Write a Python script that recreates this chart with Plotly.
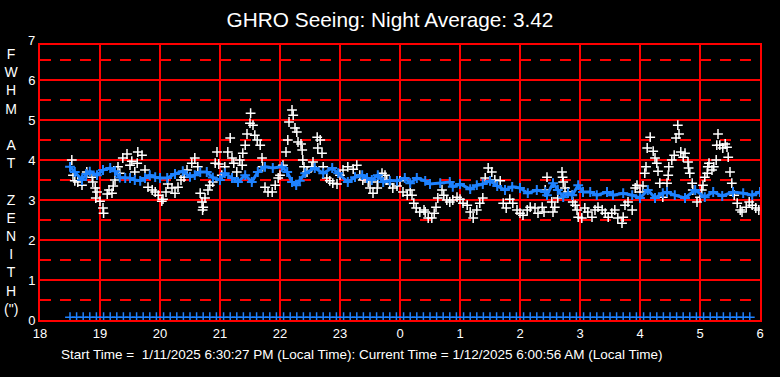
import plotly.graph_objects as go

# ---------------- data ----------------
avg_t = [18.50, 18.58, 18.70, 18.77, 18.83, 18.95, 19.05, 19.17, 19.25, 19.33, 19.42, 19.50, 19.58, 19.67,
         19.75, 19.83, 19.92, 20.00, 20.12, 20.25, 20.38, 20.50, 20.58, 20.67, 20.78, 20.88, 21.00, 21.08,
         21.20, 21.30, 21.42, 21.53, 21.63, 21.75, 21.88, 22.03, 22.12, 22.20, 22.27, 22.33, 22.42, 22.58,
         22.72, 22.87, 22.97, 23.13, 23.25, 23.37, 23.45, 23.53, 23.63, 23.72, 23.83, 23.95, 24.08, 24.17,
         24.28, 24.42, 24.50, 24.67, 24.83, 24.88, 25.00, 25.17, 25.28, 25.38, 25.50, 25.62, 25.75, 25.87,
         26.00, 26.13, 26.28, 26.42, 26.45, 26.55, 26.63, 26.72, 26.80, 26.87, 26.97, 27.05, 27.17, 27.28,
         27.45, 27.55, 27.72, 27.87, 28.00, 28.13, 28.25, 28.38, 28.45, 28.58, 28.75, 28.92, 29.08, 29.22,
         29.37, 29.55, 29.72, 29.87, 30.00]
avg_v = [3.83, 3.70, 3.50, 3.65, 3.71, 3.62, 3.75, 3.80, 3.72, 3.56, 3.55, 3.55, 3.50, 3.48,
         3.55, 3.62, 3.57, 3.55, 3.55, 3.65, 3.72, 3.58, 3.62, 3.70, 3.70, 3.56, 3.50, 3.67,
         3.55, 3.45, 3.62, 3.45, 3.70, 3.83, 3.80, 3.83, 3.70, 3.45, 3.37, 3.48, 3.67, 3.80,
         3.67, 3.80, 3.67, 3.45, 3.57, 3.62, 3.55, 3.50, 3.62, 3.45, 3.48, 3.48, 3.55, 3.42,
         3.55, 3.48, 3.40, 3.42, 3.45, 3.33, 3.40, 3.27, 3.37, 3.40, 3.48, 3.35, 3.25, 3.33,
         3.30, 3.17, 3.25, 3.20, 3.12, 3.42, 3.25, 3.07, 3.17, 3.12, 3.37, 3.20, 3.20, 3.12,
         3.20, 3.12, 3.17, 3.12, 3.05, 3.25, 3.05, 3.17, 3.20, 3.12, 3.05, 3.25, 3.07, 3.20,
         3.10, 3.20, 3.17, 3.12, 3.20]

seeing_t = [18.53, 18.55, 18.58, 18.63, 18.70, 18.78, 18.87, 18.88, 18.92, 18.95, 18.93, 19.00, 19.05, 19.06,
            19.12, 19.15, 19.20, 19.22, 19.25, 19.30, 19.33, 19.38, 19.45, 19.50, 19.53, 19.58, 19.62, 19.63,
            19.70, 19.75, 19.80, 19.87, 19.92, 19.97, 20.03, 20.05, 20.10, 20.13, 20.20, 20.25, 20.30, 20.35,
            20.40, 20.45, 20.53, 20.58, 20.63, 20.67, 20.70, 20.72, 20.71, 20.75, 20.80, 20.83, 20.88, 20.92,
            20.95, 20.98, 21.03, 21.08, 21.13, 21.17, 21.20, 21.23, 21.28, 21.33, 21.37, 21.38, 21.42, 21.45,
            21.50, 21.51, 21.55, 21.58, 21.62, 21.67, 21.70, 21.71, 21.75, 21.80, 21.87, 21.92, 21.97, 22.00,
            22.05, 22.10, 22.13, 22.15, 22.20, 22.22, 22.25, 22.28, 22.30, 22.35, 22.37, 22.38, 22.40, 22.45,
            22.53, 22.55, 22.62, 22.67, 22.63, 22.70, 22.72, 22.78, 22.83, 22.88, 22.95, 23.00, 23.05, 23.13,
            23.22, 23.28, 23.33, 23.38, 23.47, 23.50, 23.55, 23.62, 23.63, 23.70, 23.75, 23.78, 23.83, 23.88,
            23.95, 24.00, 24.05, 24.12, 24.17, 24.20, 24.23, 24.27, 24.33, 24.40, 24.42, 24.47, 24.53, 24.57,
            24.60, 24.63, 24.70, 24.73, 24.78, 24.83, 24.88, 24.95, 25.00, 25.05, 25.12, 25.17, 25.22, 25.28,
            25.33, 25.38, 25.42, 25.47, 25.53, 25.58, 25.67, 25.72, 25.77, 25.83, 25.88, 25.95, 26.00, 26.05,
            26.12, 26.17, 26.25, 26.30, 26.37, 26.40, 26.45, 26.42, 26.53, 26.55, 26.58, 26.63, 26.70, 26.71,
            26.72, 26.75, 26.80, 26.87, 26.88, 26.92, 26.95, 26.97, 27.03, 27.08, 27.13, 27.20, 27.25, 27.30,
            27.37, 27.42, 27.47, 27.53, 27.58, 27.63, 27.70, 27.72, 27.75, 27.80, 27.87, 27.92, 27.95, 28.00,
            28.05, 28.08, 28.10, 28.12, 28.17, 28.22, 28.25, 28.28, 28.30, 28.33, 28.38, 28.45, 28.47, 28.48,
            28.53, 28.57, 28.60, 28.63, 28.65, 28.68, 28.72, 28.75, 28.80, 28.81, 28.83, 28.87, 28.88, 28.95,
            29.00, 29.03, 29.05, 29.08, 29.12, 29.13, 29.15, 29.20, 29.23, 29.27, 29.28, 29.30, 29.33, 29.38,
            29.42, 29.45, 29.47, 29.50, 29.53, 29.57, 29.62, 29.67, 29.70, 29.77, 29.82, 29.87, 29.93, 29.98]
seeing_v = [4.00, 3.62, 3.48, 3.45, 3.37, 3.70, 3.57, 3.45, 3.30, 3.20, 3.05, 2.97, 2.80, 2.67,
            3.15, 3.25, 3.17, 3.35, 3.50, 3.83, 3.67, 4.05, 4.15, 3.87, 3.97, 3.70, 3.92, 4.20,
            4.12, 3.75, 3.32, 3.25, 3.20, 3.12, 2.97, 3.02, 3.20, 3.40, 3.30, 3.17, 3.32, 3.50,
            3.57, 3.75, 3.92, 4.05, 3.83, 3.17, 2.95, 2.82, 2.75, 3.05, 3.25, 3.37, 3.45, 3.92,
            4.20, 3.90, 3.62, 3.83, 4.20, 4.55, 4.05, 3.92, 3.70, 4.00, 3.87, 4.17, 4.37, 4.65,
            4.92, 5.17, 4.87, 4.62, 4.50, 4.37, 4.05, 3.83, 3.32, 3.20, 3.20, 3.37, 3.55, 3.62,
            3.87, 4.20, 4.50, 4.95, 5.25, 5.12, 4.80, 4.70, 4.45, 4.40, 4.25, 4.00, 3.83, 3.70,
            3.83, 3.95, 4.57, 4.50, 4.30, 4.17, 3.83, 3.55, 3.48, 3.42, 3.40, 3.62, 3.75, 3.83,
            3.77, 3.87, 3.62, 3.50, 3.45, 3.30, 3.17, 3.30, 3.45, 3.67, 3.62, 3.50, 3.40, 3.30,
            3.35, 3.48, 3.20, 3.12, 3.25, 3.12, 2.92, 2.80, 2.70, 2.75, 2.70, 2.55, 2.55, 2.67,
            2.82, 3.05, 3.25, 3.12, 3.00, 2.95, 3.00, 3.07, 3.02, 2.92, 2.87, 2.70, 2.55, 2.75,
            2.92, 3.05, 3.55, 3.80, 3.70, 3.50, 3.48, 2.92, 2.80, 3.02, 2.92, 2.75, 2.67, 2.62,
            2.75, 2.82, 2.80, 2.67, 2.82, 2.70, 3.57, 3.25, 2.95, 2.70, 2.82, 3.05, 3.70, 3.57,
            3.45, 3.30, 3.20, 3.12, 2.95, 2.87, 2.75, 2.57, 2.55, 2.80, 2.70, 2.57, 2.75, 2.82,
            2.75, 2.67, 2.57, 2.67, 2.75, 2.55, 2.42, 2.57, 2.87, 2.95, 2.75, 3.30, 3.37, 3.20,
            3.35, 3.67, 3.83, 4.30, 4.57, 4.22, 4.05, 3.92, 3.72, 3.42, 3.07, 3.42, 3.62, 3.83,
            4.00, 4.12, 4.55, 4.87, 4.65, 4.20, 4.07, 4.17, 3.95, 3.80, 3.67, 3.42, 3.25, 2.95,
            3.07, 3.25, 3.37, 3.57, 3.67, 3.83, 3.92, 3.75, 3.83, 4.00, 4.37, 4.65, 4.37, 4.30,
            4.40, 4.32, 4.07, 3.70, 3.42, 3.12, 2.92, 2.75, 2.70, 2.82, 2.95, 2.87, 2.80, 2.75]

base_t = [18.50, 18.61, 18.72, 18.83, 18.94,
          19.06, 19.17, 19.28, 19.39, 19.50, 19.61, 19.72, 19.83, 19.94,
          20.06, 20.17, 20.28, 20.39, 20.50, 20.61, 20.72, 20.83, 20.94,
          21.06, 21.17, 21.28, 21.39, 21.50, 21.61, 21.72, 21.83, 21.94,
          22.06, 22.17, 22.28, 22.39, 22.50, 22.61, 22.72, 22.83, 22.94,
          23.06, 23.17, 23.28, 23.39, 23.50, 23.61, 23.72, 23.83, 23.94,
          24.06, 24.17, 24.28, 24.39, 24.50, 24.61, 24.72, 24.83, 24.94,
          25.06, 25.17, 25.28, 25.39, 25.50, 25.61, 25.72, 25.83, 25.94,
          26.06, 26.17, 26.28, 26.39, 26.50, 26.61, 26.72, 26.83, 26.94,
          27.06, 27.17, 27.28, 27.39, 27.50, 27.61, 27.72, 27.83, 27.94,
          28.06, 28.17, 28.28, 28.39, 28.50, 28.61, 28.72, 28.83, 28.94,
          29.06, 29.17, 29.28, 29.39, 29.50, 29.61, 29.72, 29.83]
base_v = [0.07] * len(base_t)

x_tickvals = [18, 19, 20, 21, 22, 23, 24, 25, 26, 27, 28, 29, 30]
x_ticktext = ["18", "19", "20", "21", "22", "23", "0", "1", "2", "3", "4", "5", "6"]
y_tickvals = [0, 1, 2, 3, 4, 5, 6]
half_lines = [0.5, 1.5, 2.5, 3.5, 4.5, 5.5, 6.5]

title_text = "GHRO Seeing: Night Average: 3.42"
ylabel_letters = ["F", "W", "H", "M", "", "A", "T", "", "Z", "E", "N", "I", "T", "H", "(\")"]
footer_text = "Start Time =&nbsp; 1/11/2025 6:30:27 PM (Local Time): Current Time = 1/12/2025 6:00:56 AM (Local Time)"

BLUE = "#1E82FF"
RED = "#FF0000"
FONT = "Liberation Sans, Arial, sans-serif"

fig = go.Figure()
fig.add_trace(go.Scatter(x=seeing_t, y=seeing_v, mode="markers",
                         marker=dict(symbol="cross-thin", size=7, line=dict(color="white", width=1.5)),
                         hoverinfo="skip", showlegend=False))
fig.add_trace(go.Scatter(x=avg_t, y=avg_v, mode="lines+markers",
                         line=dict(color=BLUE, width=3),
                         marker=dict(symbol="cross-thin", size=7, line=dict(color=BLUE, width=2)),
                         hoverinfo="skip", showlegend=False))
fig.add_trace(go.Scatter(x=base_t, y=base_v, mode="markers",
                         marker=dict(symbol="cross-thin", size=7, line=dict(color=BLUE, width=1.5)),
                         hoverinfo="skip", showlegend=False, cliponaxis=False))

for v in half_lines:
    fig.add_shape(type="line", xref="x", yref="y", x0=18, x1=30, y0=v, y1=v,
                  line=dict(color=RED, width=2, dash="11px,9px"), layer="below")

fig.add_annotation(text="<br>".join(ylabel_letters), xref="paper", yref="paper",
                   x=-0.039, y=0.505, xanchor="center", yanchor="middle", showarrow=False,
                   font=dict(family=FONT, size=14, color="white"), align="center")
fig.add_annotation(text="7", xref="paper", yref="paper", x=0, y=7 / 6.875, xanchor="right",
                   yanchor="middle", xshift=-3, showarrow=False,
                   font=dict(family=FONT, size=13, color="white"))
fig.add_annotation(text=footer_text, xref="paper", yref="paper", x=0.447, y=-0.127,
                   xanchor="center", yanchor="middle", showarrow=False,
                   font=dict(family=FONT, size=13.5, color="white"))

fig.update_layout(
    width=780, height=377,
    margin=dict(l=40, r=20, t=45, b=57),
    paper_bgcolor="black", plot_bgcolor="black",
    title=dict(text=title_text, x=0.5, xanchor="center", y=1 - 20 / 377, yanchor="middle",
               font=dict(family=FONT, size=20.8, color="white")),
    font=dict(family=FONT, color="white", size=13),
    xaxis=dict(range=[18, 30], tickvals=x_tickvals, ticktext=x_ticktext, showgrid=True,
               gridcolor=RED, gridwidth=2, showline=True, linecolor=RED, linewidth=2, mirror=True,
               zeroline=False, ticks="", tickfont=dict(family=FONT, size=13, color="white")),
    yaxis=dict(range=[0, 6.875], tickvals=y_tickvals, showgrid=True, gridcolor=RED, gridwidth=2,
               showline=True, linecolor=RED, linewidth=2, mirror=True, zeroline=False, ticks="",
               tickfont=dict(family=FONT, size=13, color="white")),
)

fig.write_html("out.html", config={"displayModeBar": False},
               post_script="document.body.style.margin='0px';document.body.style.overflow='hidden';")
